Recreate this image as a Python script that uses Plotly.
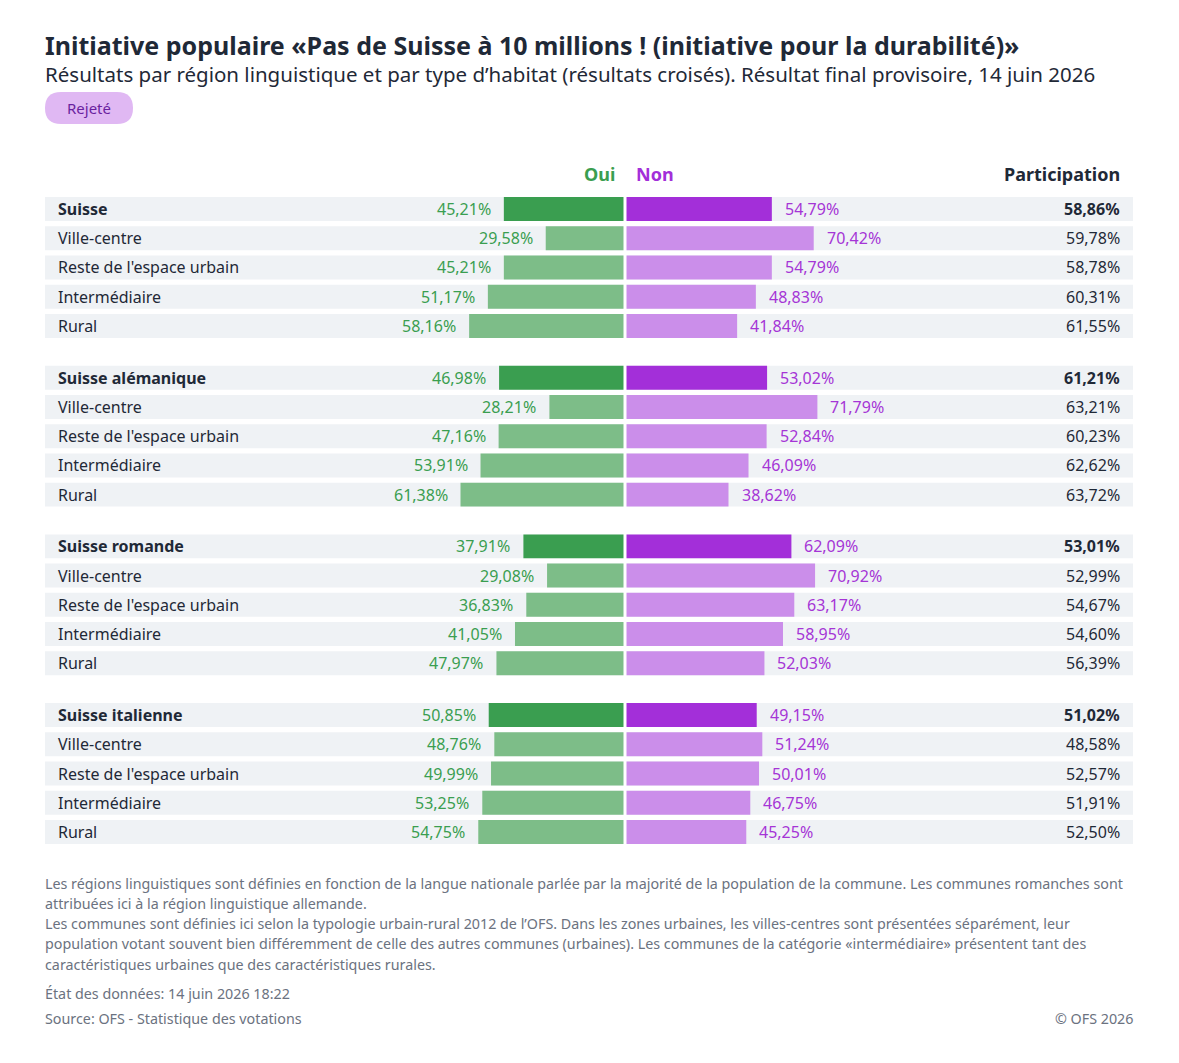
import plotly.graph_objects as go

# data
regions = ["Suisse", "Suisse alémanique", "Suisse romande", "Suisse italienne"]
habitats = ["Ville-centre", "Reste de l'espace urbain", "Intermédiaire", "Rural"]
# first value of each list = region total, then the 4 habitat types
oui = [[45.21, 29.58, 45.21, 51.17, 58.16],
       [46.98, 28.21, 47.16, 53.91, 61.38],
       [37.91, 29.08, 36.83, 41.05, 47.97],
       [50.85, 48.76, 49.99, 53.25, 54.75]]
non = [[54.79, 70.42, 54.79, 48.83, 41.84],
       [53.02, 71.79, 52.84, 46.09, 38.62],
       [62.09, 70.92, 63.17, 58.95, 52.03],
       [49.15, 51.24, 50.01, 46.75, 45.25]]
participation = [[58.86, 59.78, 58.78, 60.31, 61.55],
                 [61.21, 63.21, 60.23, 62.62, 63.72],
                 [53.01, 52.99, 54.67, 54.60, 56.39],
                 [51.02, 48.58, 52.57, 51.91, 52.50]]

OFF = 8  # page body margin
W, H = 1179 - 2 * OFF, 1063 - 2 * OFF
PT, PB = 160, 860  # plot area top / bottom (screen pixels)
GROUP_STEP = 5.77  # one group = 5 rows + gap

GREEN, GREEN_L = "#3a9e50", "#7dbd88"
PURPLE, PURPLE_L = "#a32fd9", "#cb8eea"
TXT_GREEN, TXT_PURPLE = "#3a9e50", "#a535d6"
DARK, GREY = "#1f2937", "#6b7280"
BAND = "#eff2f5"
FONT = "Noto Sans"


def fmt(v):
    return f"{v:.2f}".replace(".", ",") + "%"


def py(y):  # screen pixel y -> paper y
    return (PB - y) / (PB - PT)


# flatten
ypos, labels, o_vals, n_vals, p_vals, is_total = [], [], [], [], [], []
for g, reg in enumerate(regions):
    for r, lab in enumerate([reg] + habitats):
        ypos.append(g * GROUP_STEP + r)
        labels.append(lab)
        o_vals.append(oui[g][r])
        n_vals.append(non[g][r])
        p_vals.append(participation[g][r])
        is_total.append(r == 0)

fig = go.Figure()
fig.add_trace(go.Bar(
    y=ypos, x=[-v for v in o_vals], orientation="h", width=0.82,
    marker=dict(color=[GREEN if t else GREEN_L for t in is_total], line_width=0),
    hoverinfo="skip"))
fig.add_trace(go.Bar(
    y=ypos, x=n_vals, orientation="h", width=0.82,
    marker=dict(color=[PURPLE if t else PURPLE_L for t in is_total], line_width=0),
    hoverinfo="skip"))

shapes = []
for y in ypos:
    shapes.append(dict(type="rect", xref="paper", yref="y", x0=0, x1=1,
                       y0=y - 0.41, y1=y + 0.41, fillcolor=BAND,
                       line_width=0, layer="below"))
shapes.append(dict(type="line", xref="x", yref="paper", x0=0, x1=0, y0=0, y1=1,
                   line=dict(color="white", width=3), layer="above"))
# "Rejeté" pill
shapes.append(dict(type="path", xref="paper", yref="paper",
                   xsizemode="pixel", ysizemode="pixel", xanchor=0, yanchor=py(108),
                   path="M 16,16 L 72,16 Q 88,16 88,0 Q 88,-16 72,-16 L 16,-16 Q 0,-16 0,0 Q 0,16 16,16 Z",
                   fillcolor="#e0b8f3", line_width=0))

ann = []
f = dict(family=FONT, size=16)
for y, lab, o, n, p, t in zip(ypos, labels, o_vals, n_vals, p_vals, is_total):
    w = "bold" if t else "normal"
    ann.append(dict(x=0, xref="paper", y=y, yref="y", text=lab, xanchor="left",
                    yanchor="middle", xshift=11, showarrow=False,
                    font=dict(f, color=DARK, weight=w)))
    ann.append(dict(x=-o, y=y, text=fmt(o), xanchor="right", yanchor="middle",
                    xshift=-11, showarrow=False, font=dict(f, color=TXT_GREEN)))
    ann.append(dict(x=n, y=y, text=fmt(n), xanchor="left", yanchor="middle",
                    xshift=11, showarrow=False, font=dict(f, color=TXT_PURPLE)))
    ann.append(dict(x=1, xref="paper", y=y, yref="y", text=fmt(p), xanchor="right",
                    yanchor="middle", xshift=-11, showarrow=False,
                    font=dict(f, color=DARK, weight=w)))


def label(x, y, text, size, color, xanchor="left", xref="paper", xshift=0, weight="normal"):
    return dict(x=x, xref=xref, y=py(y), yref="paper", text=text, xanchor=xanchor,
                yanchor="middle", xshift=xshift, showarrow=False, align="left",
                font=dict(family=FONT, size=size, color=color, weight=weight))


title = "Initiative populaire «Pas de Suisse à 10 millions ! (initiative pour la durabilité)»"
subtitle = ("Résultats par région linguistique et par type d’habitat (résultats croisés). "
            "Résultat final provisoire, 14 juin 2026")
ann += [
    label(0, 174, "Oui", 18, GREEN, "right", "x", -8, "bold"),
    label(0, 174, "Non", 18, PURPLE, "left", "x", 9, "bold"),
    label(1, 174, "Participation", 18, DARK, "right", "paper", -11, "bold"),
    label(0, 58, f"<b><span style='font-size:25px'>{title}</span></b><br>{subtitle}",
          20.5, DARK, xshift=-2),
    label(0, 108, "Rejeté", 15, "#6b1fa0", "center", "paper", 44),
]

notes = [
    (883, "Les régions linguistiques sont définies en fonction de la langue nationale parlée par la majorité de la population de la commune. Les communes romanches sont"),
    (903, "attribuées ici à la région linguistique allemande."),
    (923, "Les communes sont définies ici selon la typologie urbain-rural 2012 de l’OFS. Dans les zones urbaines, les villes-centres sont présentées séparément, leur"),
    (943, "population votant souvent bien différemment de celle des autres communes (urbaines). Les communes de la catégorie «intermédiaire» présentent tant des"),
    (964, "caractéristiques urbaines que des caractéristiques rurales."),
    (993, "État des données: 14 juin 2026 18:22"),
    (1018, "Source: OFS - Statistique des votations"),
]
for yy, txt in notes:
    ann.append(label(0, yy, txt, 14.3, GREY, xshift=-2))
ann.append(label(1, 1018, "© OFS 2026", 14.3, GREY, "right", xshift=2))

px_per = 2.68  # pixels per percent
center = 625
row_px = (832 - 209) / (3 * GROUP_STEP + 4)
fig.update_layout(
    width=W, height=H,
    margin=dict(l=45 - OFF, r=(W + OFF) - 1133, t=PT - OFF, b=(H + OFF) - PB),
    paper_bgcolor="white", plot_bgcolor="white",
    barmode="overlay", showlegend=False,
    xaxis=dict(range=[(45 - center) / px_per, (1133 - center) / px_per],
               visible=False, fixedrange=True),
    yaxis=dict(range=[(PB - 209) / row_px, (PT - 209) / row_px],
               visible=False, fixedrange=True),
    shapes=shapes, annotations=ann,
    font=dict(family=FONT),
)
fig.write_html("out.html")
